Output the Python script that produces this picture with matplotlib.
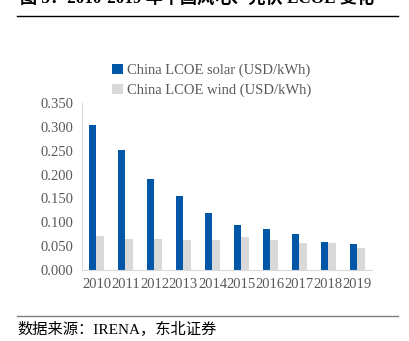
import numpy as np
import matplotlib.pyplot as plt

years = ['2010', '2011', '2012', '2013', '2014', '2015', '2016', '2017', '2018', '2019']
solar = [0.304, 0.251, 0.190, 0.155, 0.120, 0.094, 0.085, 0.076, 0.058, 0.054]
wind = [0.071, 0.065, 0.066, 0.064, 0.062, 0.069, 0.062, 0.057, 0.057, 0.047]

fonts = ['Liberation Serif', 'Noto Sans CJK SC']
plt.rcParams['font.family'] = fonts

fig = plt.figure(figsize=(4.10, 3.41), dpi=100)
ax = fig.add_axes([0.2, 0.208, 0.707, 0.49])

x = np.arange(len(years))
w = 0.27
ax.bar(x - w / 2, solar, w, color='#0057A8', label='China LCOE solar (USD/kWh)')
ax.bar(x + w / 2, wind, w, color='#D9D9D9', label='China LCOE wind (USD/kWh)')

ax.set_xlim(-0.5, len(years) - 0.5)
ax.set_ylim(0, 0.35)
ax.set_yticks(np.arange(0, 0.351, 0.05))
ax.set_yticklabels([f'{v:.3f}' for v in np.arange(0, 0.351, 0.05)])
ax.set_xticks(x)
ax.set_xticklabels(years)
ax.tick_params(length=0, labelsize=10.5, colors='#595959', pad=6)
for s in ['top', 'right']:
    ax.spines[s].set_visible(False)
for s in ['left', 'bottom']:
    ax.spines[s].set_color('#D9D9D9')

fig.legend(loc='upper left', bbox_to_anchor=(0.26, 0.83), frameon=False,
           fontsize=10.5, labelcolor='#595959', handlelength=0.7, handleheight=0.7,
           handletextpad=0.3, labelspacing=0.45, borderaxespad=0)

fig.text(0.48, 1.005, '图 5：2010-2019 年中国风电、光伏 LCOE 变化', ha='center', va='center',
         fontsize=12.3, fontweight='bold', family=fonts)
fig.add_artist(plt.Line2D([17 / 410, 398 / 410], [1 - 16 / 341] * 2, color='black', lw=1))
fig.add_artist(plt.Line2D([17 / 410, 398 / 410], [1 - 316 / 341] * 2, color='#7f7f7f', lw=1))
fig.text(17 / 410, 1 - 329 / 341, '数据来源：IRENA，东北证券', ha='left', va='center',
         fontsize=11, family=fonts)

fig.savefig('out.png', dpi=100)
